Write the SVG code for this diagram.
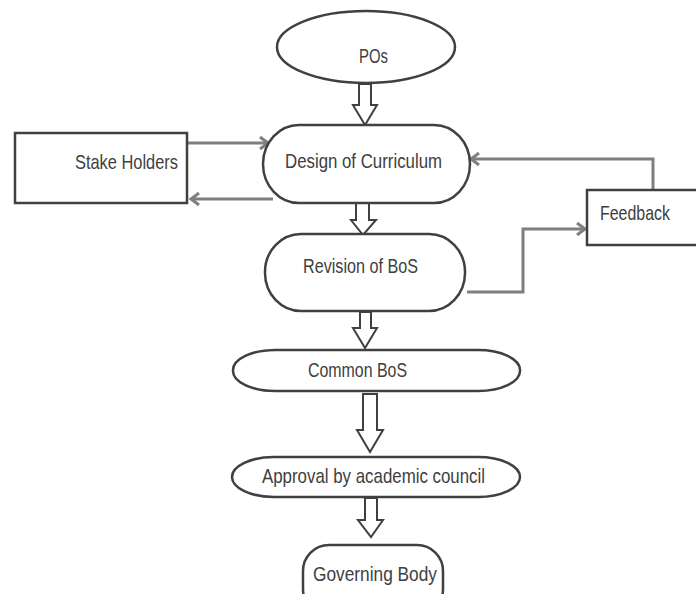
<svg xmlns="http://www.w3.org/2000/svg" width="696" height="594" viewBox="0 0 696 594">
<defs>
<style>
.shape{fill:#fff;stroke:#404040;stroke-width:2.5}
.blk{fill:#fff;stroke:#404040;stroke-width:2;stroke-linejoin:miter}
.conn{fill:none;stroke:#7f7f7f;stroke-width:3}
.lbl{font-family:"Liberation Sans","Open Sans",sans-serif;font-size:21px;fill:#404040}
</style>
<marker id="chev" markerUnits="userSpaceOnUse" markerWidth="14" markerHeight="14" refX="10" refY="7" orient="auto">
<path d="M2,1 L10,7 L2,13" fill="none" stroke="#7f7f7f" stroke-width="3"/>
</marker>
</defs>
<rect width="696" height="594" fill="#fff"/>
<g id="connectors">
<polygon class="blk" points="359,84 371,84 371,105 377,105 365,125 353,105 359,105"/>
<polygon class="blk" points="356,203 369,203 369,220 376,220 363,235 351,220 356,220"/>
<polygon class="blk" points="360,312 371,312 371,328 377,328 365,348 353,328 360,328"/>
<polygon class="blk" points="363,394 377,394 377,430 383,430 370,452 357,430 363,430"/>
<polygon class="blk" points="365,498 377,498 377,520 383,520 371,537 358,520 365,520"/>
<path class="conn" d="M187,143 L268,143" marker-end="url(#chev)"/>
<path class="conn" d="M273,199 L191,199" marker-end="url(#chev)"/>
<path class="conn" d="M653,190 L653,159 L471,159" marker-end="url(#chev)"/>
<path class="conn" d="M467,292 L523,292 L523,229 L585,229" marker-end="url(#chev)"/>
</g>
<g id="pos">
<ellipse class="shape" cx="366" cy="47" rx="89" ry="36"/>
<text class="lbl" x="359" y="63" textLength="29" lengthAdjust="spacingAndGlyphs">POs</text>
</g>
<g id="stake-holders">
<rect class="shape" x="15" y="133" width="172" height="70"/>
<text class="lbl" x="75" y="169" textLength="103" lengthAdjust="spacingAndGlyphs">Stake Holders</text>
</g>
<g id="design">
<rect class="shape" x="263" y="125" width="207" height="78" rx="36" ry="39"/>
<text class="lbl" x="285" y="168" textLength="157" lengthAdjust="spacingAndGlyphs">Design of Curriculum</text>
</g>
<g id="feedback">
<rect class="shape" x="587" y="190" width="120" height="55"/>
<text class="lbl" x="600" y="220" textLength="70" lengthAdjust="spacingAndGlyphs">Feedback</text>
</g>
<g id="revision">
<rect class="shape" x="265" y="234" width="200" height="77" rx="36" ry="38"/>
<text class="lbl" x="303" y="273" textLength="115" lengthAdjust="spacingAndGlyphs">Revision of BoS</text>
</g>
<g id="common-bos">
<rect class="shape" x="233" y="350" width="287" height="41" rx="42" ry="20"/>
<text class="lbl" x="308" y="377" textLength="99" lengthAdjust="spacingAndGlyphs">Common BoS</text>
</g>
<g id="approval">
<rect class="shape" x="232" y="457" width="288" height="40" rx="42" ry="20"/>
<text class="lbl" x="262" y="483" textLength="223" lengthAdjust="spacingAndGlyphs">Approval by academic council</text>
</g>
<g id="governing">
<rect class="shape" x="303" y="545" width="140" height="70" rx="26" ry="26"/>
<text class="lbl" x="313" y="581" textLength="124" lengthAdjust="spacingAndGlyphs">Governing Body</text>
</g>
</svg>
